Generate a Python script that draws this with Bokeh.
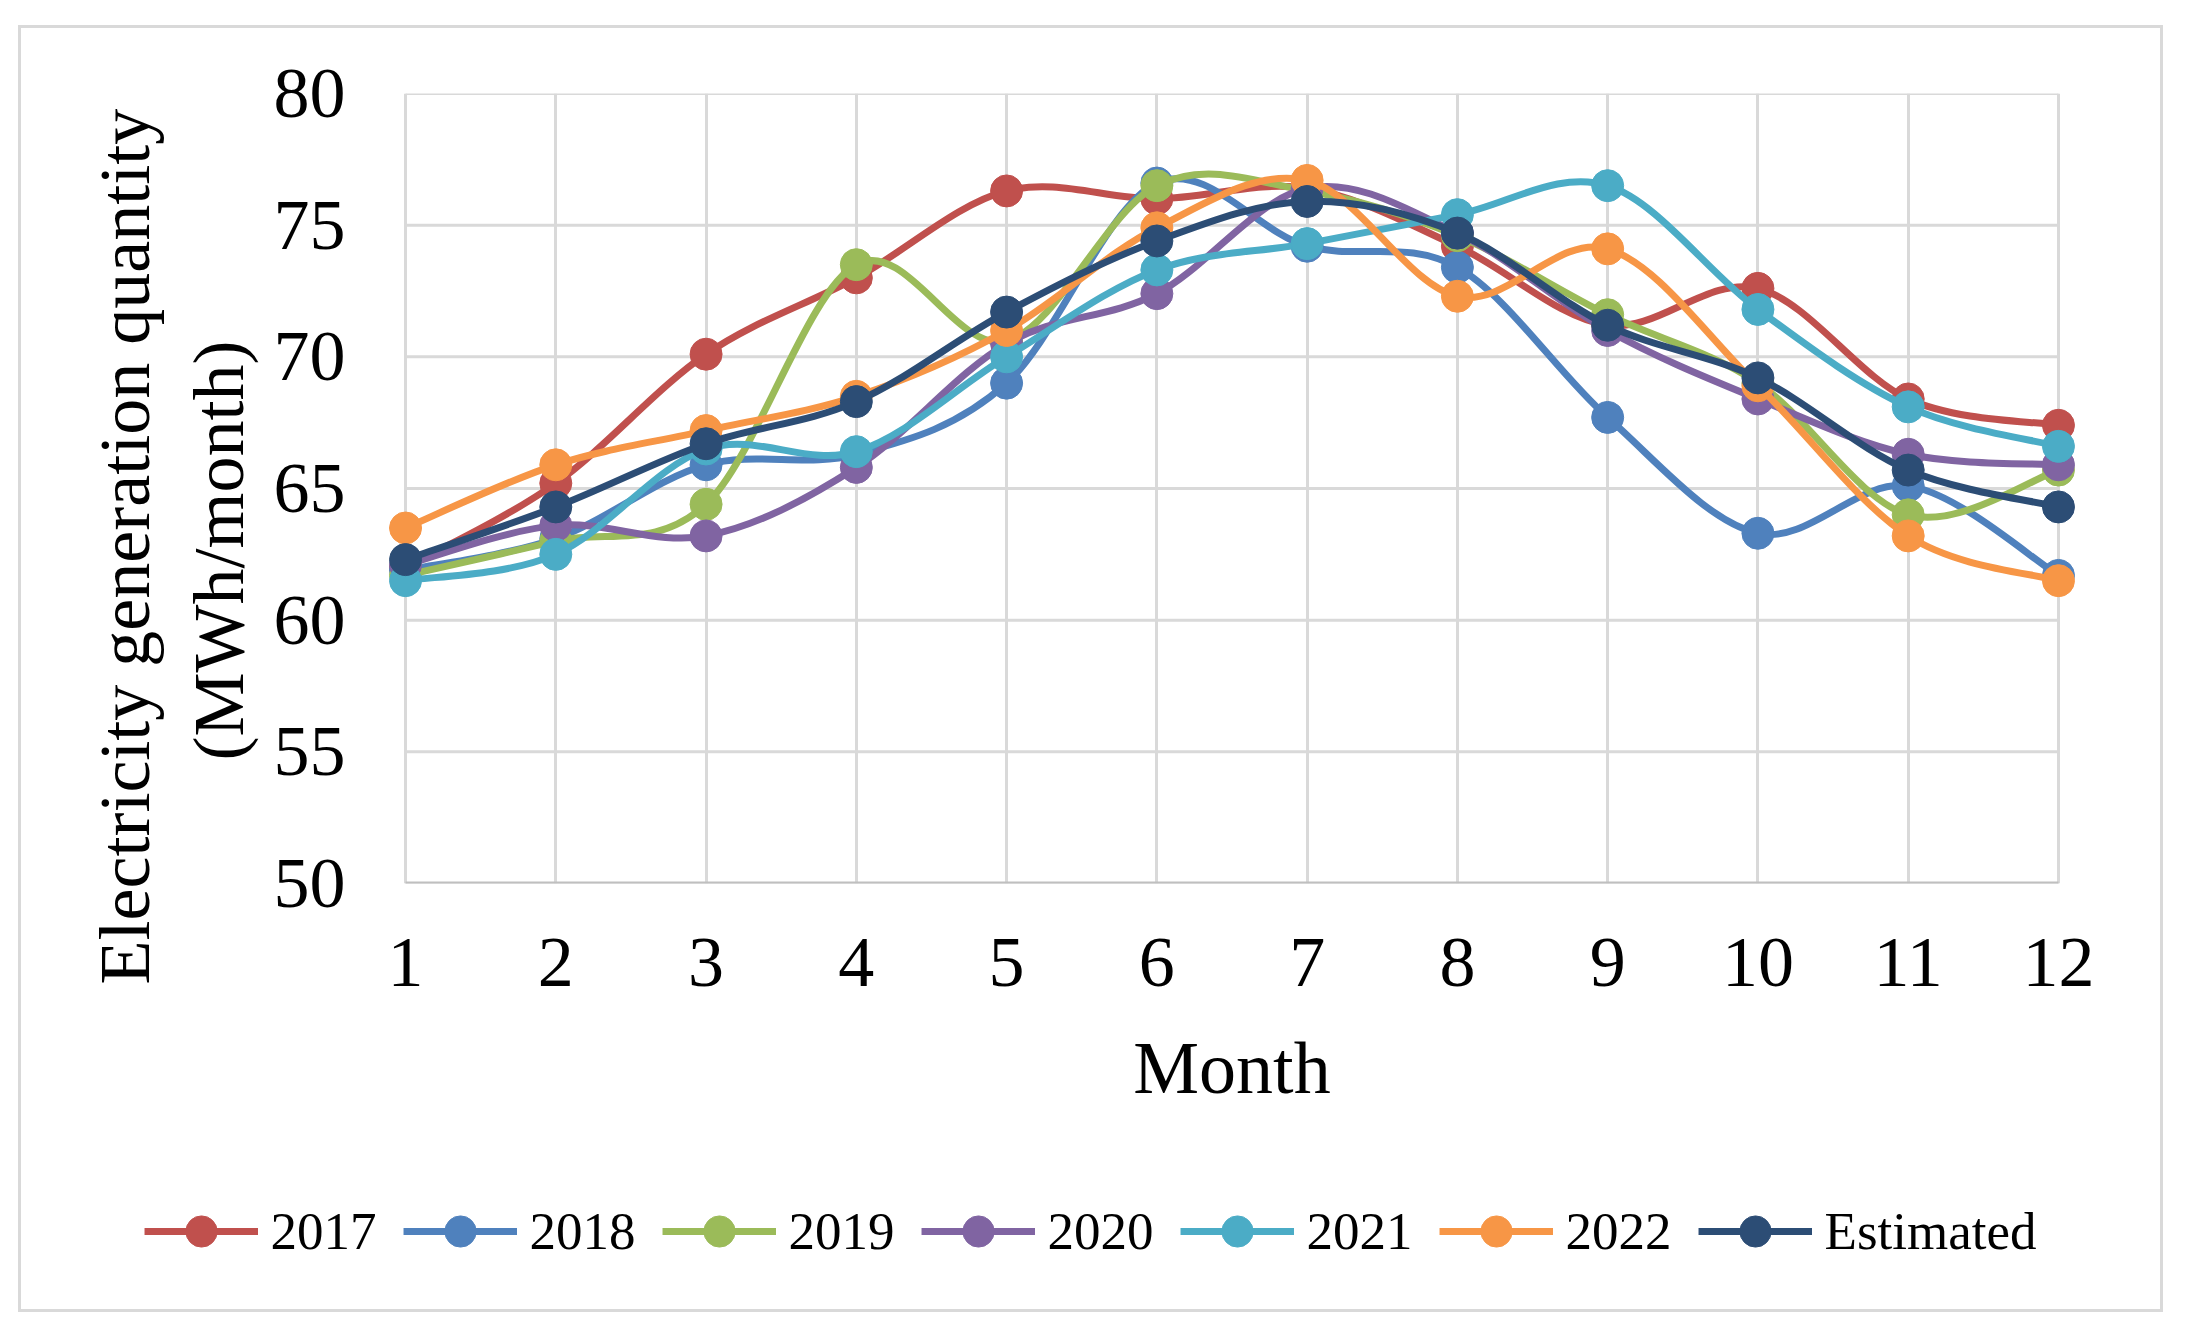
import numpy as np
from bokeh.plotting import figure
from bokeh.layouts import column
from bokeh.models import FixedTicker, Legend, LegendItem, Range1d, Title
from bokeh.embed import file_html
from bokeh.resources import INLINE

months = [1, 2, 3, 4, 5, 6, 7, 8, 9, 10, 11, 12]
y_ticks = [50, 55, 60, 65, 70, 75, 80]

s2017 = [62.0, 65.2, 70.1, 73.0, 76.3, 76.0, 76.4, 74.2, 71.2, 72.6, 68.4, 67.4]
s2018 = [61.9, 63.1, 65.9, 66.3, 69.0, 76.6, 74.2, 73.4, 67.7, 63.3, 65.1, 61.7]
s2019 = [61.7, 63.0, 64.4, 73.5, 70.6, 76.5, 76.3, 74.6, 71.6, 69.0, 64.0, 65.7]
s2020 = [62.1, 63.6, 63.2, 65.8, 70.5, 72.4, 76.4, 74.7, 71.0, 68.4, 66.3, 65.9]
s2021 = [61.5, 62.5, 66.5, 66.4, 70.0, 73.3, 74.3, 75.4, 76.5, 71.8, 68.1, 66.6]
s2022 = [63.5, 65.9, 67.2, 68.5, 71.0, 74.9, 76.7, 72.3, 74.1, 68.9, 63.2, 61.5]
estimated = [62.3, 64.3, 66.7, 68.3, 71.7, 74.4, 75.9, 74.7, 71.2, 69.2, 65.7, 64.3]

series_names = ["2017", "2018", "2019", "2020", "2021", "2022", "Estimated"]
series_values = [s2017, s2018, s2019, s2020, s2021, s2022, estimated]
colors = ["#C0504D", "#4F81BD", "#9BBB59", "#8064A2", "#4BACC6", "#F79646", "#2C4D75"]

y_title_lines = ["(MWh/month)", "Electricity generation quantity"]

FONT = "Liberation Serif"
LINE_W = 7
MARK = 32

p = figure(
    frame_width=1689, frame_height=790,
    min_border_left=366, min_border_right=84, min_border_top=65, min_border_bottom=270,
    x_range=Range1d(0.88, 12.12), y_range=Range1d(50, 80),
    output_backend="svg", toolbar_location=None,
    background_fill_color="white", border_fill_color="white",
)
p.outline_line_color = None

# grid
p.xgrid.ticker = FixedTicker(ticks=months)
p.xgrid.grid_line_color = "#d9d9d9"
p.xgrid.grid_line_width = 3
p.ygrid.grid_line_color = None
p.segment(x0=[months[0]] * len(y_ticks), x1=[months[-1]] * len(y_ticks),
          y0=y_ticks, y1=y_ticks, line_color="#d9d9d9", line_width=3)
p.segment(x0=[months[0]], x1=[months[-1]], y0=[y_ticks[0]], y1=[y_ticks[0]],
          line_color="#bfbfbf", line_width=4)

# axes
for ax in (p.xaxis[0], p.yaxis[0]):
    ax.axis_line_color = None
    ax.major_tick_line_color = None
    ax.minor_tick_line_color = None
    ax.major_label_text_font = FONT
    ax.major_label_text_font_size = "72px"
    ax.major_label_text_color = "black"
    ax.axis_label_text_font = FONT
    ax.axis_label_text_font_size = "74px"
    ax.axis_label_text_font_style = "normal"
    ax.axis_label_text_color = "black"

p.xaxis.ticker = FixedTicker(ticks=months)
p.yaxis.ticker = FixedTicker(ticks=y_ticks)
p.xaxis.axis_label = "Month"
p.xaxis.major_label_standoff = 49
p.xaxis.axis_label_standoff = 38
p.yaxis.major_label_standoff = 36

# y title as two lines (closest to the axis first); align="left" = start at the bottom
title_offsets = [123, -101]
title_standoffs = [24, 0]
for txt, off, so in zip(y_title_lines, title_offsets, title_standoffs):
    t = Title(text=txt, align="left", offset=off, text_font=FONT,
              text_font_size="72px", text_font_style="normal", text_color="black",
              standoff=so)
    p.add_layout(t, "left")

# series: smooth curves (bezier through the points) + markers
for name, vals, col in zip(series_names, series_values, colors):
    x = np.array(months, dtype=float)
    y = np.array(vals, dtype=float)
    xp = np.concatenate([[x[0]], x, [x[-1]]])
    yp = np.concatenate([[y[0]], y, [y[-1]]])
    n = len(x)
    x0, y0 = x[:-1], y[:-1]
    x1, y1 = x[1:], y[1:]
    cx0 = x0 + (xp[2:n + 1] - xp[0:n - 1]) / 6.0
    cy0 = y0 + (yp[2:n + 1] - yp[0:n - 1]) / 6.0
    cx1 = x1 - (xp[3:n + 2] - xp[1:n]) / 6.0
    cy1 = y1 - (yp[3:n + 2] - yp[1:n]) / 6.0
    p.bezier(x0=x0, y0=y0, x1=x1, y1=y1, cx0=cx0, cy0=cy0, cx1=cx1, cy1=cy1,
             line_color=col, line_width=LINE_W)
    p.scatter(x=months, y=vals, size=MARK, fill_color=col, line_color=col)

# legend strip below the chart (its ranges show none of the data, only the legend)
lg = figure(
    frame_width=2119, frame_height=156,
    min_border_left=20, min_border_right=0, min_border_top=0, min_border_bottom=0,
    x_range=Range1d(-2, -1), y_range=Range1d(0, 1),
    output_backend="svg", toolbar_location=None,
    background_fill_color="white", border_fill_color="white",
)
lg.outline_line_color = None
lg.xaxis.visible = False
lg.yaxis.visible = False
lg.xgrid.visible = False
lg.ygrid.visible = False

items = []
for name, vals, col in zip(series_names, series_values, colors):
    rl = lg.line(x=months, y=vals, line_color=col, line_width=LINE_W)
    rs = lg.scatter(x=months, y=vals, size=MARK, fill_color=col, line_color=col)
    items.append(LegendItem(label=name, renderers=[rl, rs]))

legend = Legend(items=items, orientation="horizontal", location="center")
legend.label_text_font = FONT
legend.label_text_font_size = "53px"
legend.label_text_color = "black"
legend.glyph_width = 114
legend.glyph_height = 78
legend.label_standoff = 12
legend.spacing = 27
legend.padding = 0
legend.margin = 0
legend.border_line_color = None
legend.background_fill_alpha = 0
lg.add_layout(legend, "center")

layout = column(p, lg, spacing=0,
                styles={"border": "3px solid #d9d9d9", "margin-left": "18px",
                        "margin-top": "25px", "background-color": "white"})

open("out.html", "w").write(file_html(layout, INLINE))
